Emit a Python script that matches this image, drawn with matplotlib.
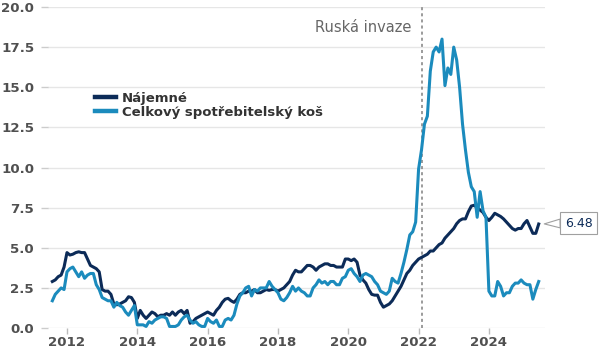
import numpy as np
import matplotlib
matplotlib.use("Agg")
import matplotlib.pyplot as plt

# měsíční data od srpna 2011 do června 2025 (meziroční změna v %)
start_year, start_month = 2011, 8

najemne = [
    2.9, 3.0, 3.2, 3.3, 3.8,                                          # 2011 VIII-XII
    4.7, 4.55, 4.6, 4.7, 4.75, 4.7, 4.7, 4.3, 3.9, 3.8, 3.7, 3.5,     # 2012
    2.4, 2.3, 2.3, 2.1, 1.5, 1.45, 1.5, 1.6, 1.7, 1.95, 1.9, 1.6,     # 2013
    0.6, 1.1, 0.8, 0.6, 0.8, 1.0, 0.9, 0.7, 0.8, 0.8, 0.9, 0.8,       # 2014
    1.0, 0.8, 1.0, 1.1, 0.9, 1.1, 0.3, 0.4, 0.6, 0.7, 0.8, 0.9,       # 2015
    1.0, 0.9, 0.8, 1.1, 1.3, 1.6, 1.8, 1.85, 1.7, 1.6, 1.8, 2.1,      # 2016
    2.2, 2.2, 2.3, 2.3, 2.4, 2.2, 2.2, 2.3, 2.4, 2.35, 2.4, 2.4,      # 2017
    2.3, 2.4, 2.5, 2.7, 2.9, 3.3, 3.6, 3.5, 3.5, 3.7, 3.9, 3.9,       # 2018
    3.8, 3.6, 3.8, 3.9, 4.0, 4.0, 3.9, 3.9, 3.8, 3.8, 3.8, 4.3,       # 2019
    4.3, 4.2, 4.3, 4.1, 3.3, 3.0, 2.8, 2.4, 2.1, 2.05, 2.05, 1.6,     # 2020
    1.3, 1.4, 1.5, 1.7, 2.0, 2.3, 2.6, 3.0, 3.4, 3.6, 3.9, 4.1,       # 2021
    4.3, 4.4, 4.5, 4.6, 4.8, 4.8, 5.0, 5.2, 5.3, 5.6, 5.8, 6.0,       # 2022
    6.2, 6.5, 6.7, 6.8, 6.8, 7.25, 7.6, 7.65, 7.5, 7.35, 7.2, 6.9,    # 2023
    6.7, 6.9, 7.15, 7.05, 6.95, 6.8, 6.6, 6.4, 6.2, 6.1, 6.2, 6.2,    # 2024
    6.5, 6.7, 6.3, 5.9, 5.9, 6.48,                                    # 2025 I-VI
]

spotrebitelsky_kos = [
    1.7, 2.1, 2.3, 2.5, 2.4,                                          # 2011 VIII-XII
    3.5, 3.7, 3.8, 3.5, 3.2, 3.5, 3.1, 3.3, 3.4, 3.4, 2.7, 2.4,       # 2012
    1.9, 1.8, 1.7, 1.7, 1.3, 1.6, 1.4, 1.3, 1.0, 0.8, 1.1, 1.4,       # 2013
    0.2, 0.2, 0.2, 0.1, 0.4, 0.3, 0.5, 0.6, 0.7, 0.7, 0.6, 0.1,       # 2014
    0.1, 0.1, 0.2, 0.5, 0.7, 0.8, 0.5, 0.3, 0.4, 0.2, 0.1, 0.1,       # 2015
    0.6, 0.4, 0.3, 0.5, 0.1, 0.1, 0.5, 0.6, 0.5, 0.8, 1.5, 2.0,       # 2016
    2.2, 2.5, 2.6, 2.0, 2.4, 2.3, 2.5, 2.5, 2.5, 2.9, 2.6, 2.4,       # 2017
    2.2, 1.8, 1.7, 1.9, 2.2, 2.6, 2.3, 2.5, 2.3, 2.2, 2.0, 2.0,       # 2018
    2.5, 2.7, 3.0, 2.8, 2.9, 2.7, 2.9, 2.9, 2.7, 2.7, 3.1, 3.2,       # 2019
    3.6, 3.7, 3.4, 3.2, 2.9, 3.3, 3.4, 3.3, 3.2, 2.9, 2.7, 2.3,       # 2020
    2.2, 2.1, 2.3, 3.1, 2.9, 2.8, 3.4, 4.1, 4.9, 5.8, 6.0, 6.6,       # 2021
    9.9, 11.1, 12.7, 13.2, 16.0, 17.2, 17.5, 17.2, 18.0, 15.1, 16.2, 15.8,  # 2022
    17.5, 16.7, 15.0, 12.7, 11.1, 9.7, 8.8, 8.5, 6.9, 8.5, 7.3, 6.9,  # 2023
    2.3, 2.0, 2.0, 2.9, 2.6, 2.0, 2.2, 2.2, 2.6, 2.8, 2.8, 3.0,       # 2024
    2.8, 2.7, 2.7, 1.8, 2.4, 2.9,                                     # 2025 I-VI
]

invaze_rok, invaze_mesic = 2022, 2
x_ticks = [2012, 2014, 2016, 2018, 2020, 2022, 2024]
y_ticks = [0, 2.5, 5, 7.5, 10, 12.5, 15, 17.5, 20]

# osa x jako desetinný rok (začátek měsíce)
n = len(najemne)
t = start_year + (start_month - 1 + np.arange(n)) / 12.0
t_invaze = invaze_rok + (invaze_mesic - 1) / 12.0

c_rent = "#0c2b58"
c_cpi = "#1b8bbd"
c_tick = "#505050"

fig = plt.figure(figsize=(6.0, 3.49), dpi=100)
ax = fig.add_axes([0.08, 0.060, 0.828, 0.920])

ax.plot(t, najemne, color=c_rent, lw=2.2, label="Nájemné", zorder=3)
ax.plot(t, spotrebitelsky_kos, color=c_cpi, lw=2.2,
        label="Celkový spotřebitelský koš", zorder=3)

ax.axvline(t_invaze, color="#808080", lw=1.1, ls=(0, (2, 2)), zorder=2)
ax.text(t_invaze - 0.3, 18.7, "Ruská invaze", ha="right", va="center",
        fontsize=10.5, color="#666666")

ax.set_xlim(2011.46, 2025.59)
ax.set_ylim(0, 20)
ax.set_xticks(x_ticks)
ax.set_yticks(y_ticks)
ax.set_yticklabels([f"{v:.1f}" for v in y_ticks])

for lab in ax.get_xticklabels() + ax.get_yticklabels():
    lab.set_fontweight("bold")
ax.tick_params(axis="both", labelsize=9.6, labelcolor=c_tick)
ax.tick_params(axis="x", length=4, width=1, color="#bbbbbb", pad=1.5)
ax.tick_params(axis="y", length=5, width=1, color="#cccccc", pad=5)

ax.grid(axis="y", color="#e6e6e6", lw=1)
ax.set_axisbelow(True)
for s in ax.spines.values():
    s.set_visible(False)

leg = ax.legend(loc="upper left", bbox_to_anchor=(0.094, 0.735), frameon=False,
                handlelength=1.65, handletextpad=0.4, labelspacing=0.05,
                borderpad=0, borderaxespad=0, fontsize=9.5)
for line in leg.get_lines():
    line.set_linewidth(3.2)
for txt in leg.get_texts():
    txt.set_fontweight("bold")
    txt.set_color("#333333")

# štítek s poslední hodnotou nájemného
ax.annotate(f"{najemne[-1]:.2f}", xy=(t[-1], najemne[-1]),
            xytext=(40, 1), textcoords="offset pixels",
            ha="center", va="center", fontsize=9, color=c_rent,
            bbox=dict(boxstyle="square,pad=0.35", fc="white", ec="#a0a0a0", lw=0.8),
            arrowprops=dict(arrowstyle="wedge,tail_width=0.7,shrink_factor=0.5",
                            fc="white", ec="#a0a0a0", lw=0.8,
                            shrinkA=0, shrinkB=4),
            annotation_clip=False, zorder=5)

fig.savefig("out.png", dpi=100)
